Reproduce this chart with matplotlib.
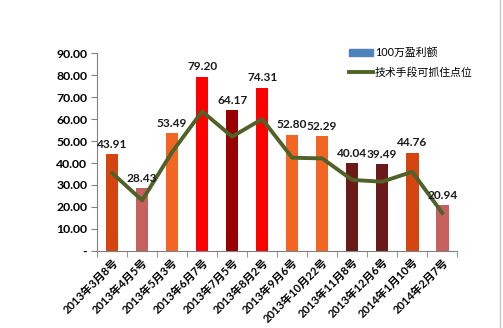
import numpy as np
import matplotlib.pyplot as plt
from matplotlib.lines import Line2D
from matplotlib.patches import Patch

plt.rcParams['font.family'] = ['Lato', 'Noto Sans CJK SC', 'DejaVu Sans']

# data
dates = ['2013年3月8号', '2013年4月5号', '2013年5月3号', '2013年6月7号',
         '2013年7月5号', '2013年8月2号', '2013年9月6号', '2013年10月22号',
         '2013年11月8号', '2013年12月6号', '2014年1月10号', '2014年2月7号']
profit = [43.91, 28.43, 53.49, 79.20, 64.17, 74.31, 52.80, 52.29, 40.04, 39.49, 44.76, 20.94]
catch = [35.5, 23.0, 45.0, 63.5, 52.0, 60.0, 42.4, 42.1, 32.3, 31.5, 36.0, 17.3]
bar_colors = ['#D5450F', '#C5605E', '#F26522', '#FF0000', '#990000', '#FF0000',
              '#F26522', '#F26522', '#6B1A1A', '#6B1A1A', '#D5450F', '#C5605E']

fig = plt.figure(figsize=(5.03, 3.28), dpi=100)
ax = fig.add_axes([0.193, 0.235, 0.716, 0.603])

x = np.arange(len(dates))
ax.bar(x, profit, width=0.42, color=bar_colors, zorder=2)
ax.plot(x, catch, color='#4F6228', lw=2.8, zorder=3)

for xi, v in zip(x, profit):
    ax.text(xi, v + 2.0, '%.2f' % v, ha='center', va='bottom', fontsize=8.6,
            fontweight='bold', color='#1a1a1a', zorder=4)

ax.set_xlim(-0.5, len(dates) - 0.5)
ax.set_ylim(0, 90)
ax.set_yticks(np.arange(0, 91, 10))
ax.set_yticklabels(['-'] + ['%.2f' % t for t in range(10, 91, 10)],
                   fontsize=8.8, fontweight='bold')
ax.set_xticks(x)
ax.set_xticklabels(dates, rotation=45, ha='right', rotation_mode='anchor',
                   fontsize=8, fontweight='bold')
ax.set_xticks(np.arange(-0.5, len(dates), 1), minor=True)
ax.tick_params(axis='x', which='major', length=0, pad=4)
ax.tick_params(axis='x', which='minor', length=4, color='#808080')
ax.tick_params(axis='y', length=4, color='#808080', pad=3)

for s in ['top', 'right']:
    ax.spines[s].set_visible(False)
ax.spines['left'].set_color('#808080')
ax.spines['bottom'].set_color('#808080')

handles = [Patch(color='#4F81BD'), Line2D([], [], color='#4F6228', lw=2.8)]
fig.legend(handles, ['100万盈利额', '技术手段可抓住点位'], loc='upper left',
           bbox_to_anchor=(0.685, 0.87), frameon=False, fontsize=7.8,
           handlelength=2.2, handleheight=0.6, labelspacing=0.8,
           handletextpad=0.2, borderaxespad=0)

fig.add_artist(Line2D([0.995, 0.995], [0.0, 1.0], color='#c8c8c8', lw=1))

fig.savefig('out.png', dpi=100)
